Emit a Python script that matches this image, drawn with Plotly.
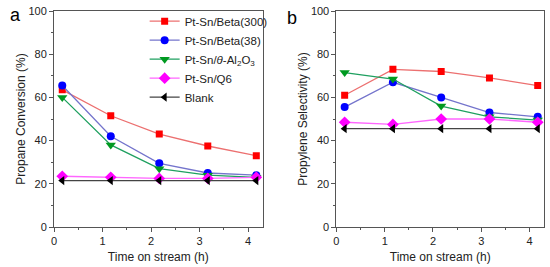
"""Pt-Sn catalysts: propane conversion and propylene selectivity vs time on stream."""

import plotly.graph_objects as go
from plotly.subplots import make_subplots

TIME_H = [0.17, 1.17, 2.17, 3.17, 4.17]

SERIES = [
    "Pt-Sn/Beta(300)",
    "Pt-Sn/Beta(38)",
    "Pt-Sn/<i>θ</i>-Al<sub>2</sub>O<sub>3</sub>",
    "Pt-Sn/Q6",
    "Blank",
]

CONVERSION = [
    [63.5, 51.5, 43.0, 37.5, 33.0],
    [65.5, 42.0, 29.5, 25.0, 24.0],
    [60.0, 38.0, 27.0, 24.0, 23.0],
    [23.5, 23.0, 22.5, 22.5, 23.0],
    [21.5, 21.5, 21.5, 21.5, 21.5],
]

SELECTIVITY = [
    [61.0, 73.0, 72.0, 69.0, 65.5],
    [55.5, 67.0, 60.0, 53.0, 51.0],
    [71.5, 68.5, 56.0, 51.0, 49.5],
    [48.5, 47.5, 50.0, 50.0, 48.5],
    [45.5, 45.5, 45.5, 45.5, 45.5],
]

MARKER_COLORS = ["#ff0000", "#0000ff", "#009a20", "#ff00ff", "#000000"]
LINE_COLORS = ["#ec7070", "#7474cc", "#1fa060", "#ff66ff", "#444444"]
SYMBOLS = ["square", "circle", "triangle-down", "diamond", "triangle-left"]
MARKER_SIZES = [7, 8, 9, 9, 8]

FONT = "Liberation Sans, Arial, sans-serif"

fig = make_subplots(rows=1, cols=2, horizontal_spacing=0.15)

for panel, values in enumerate([CONVERSION, SELECTIVITY], start=1):
    for i, name in enumerate(SERIES):
        fig.add_trace(
            go.Scatter(
                x=TIME_H,
                y=values[i],
                mode="lines+markers",
                name=name,
                line={"color": LINE_COLORS[i], "width": 1.3},
                marker={
                    "color": MARKER_COLORS[i],
                    "symbol": SYMBOLS[i],
                    "size": MARKER_SIZES[i],
                    "line": {"width": 0},
                },
                showlegend=panel == 1,
            ),
            row=1,
            col=panel,
        )

axis_common = dict(
    showline=True,
    mirror=True,
    linecolor="#555555",
    linewidth=1,
    ticks="outside",
    ticklen=4,
    tickcolor="#555555",
    showgrid=False,
    zeroline=False,
    tickfont={"size": 11, "color": "#222222"},
    title_font={"size": 12, "color": "#222222"},
)

fig.update_xaxes(
    range=[0, 4.3],
    tickvals=[0, 1, 2, 3, 4],
    minor={"tickvals": [0.5, 1.5, 2.5, 3.5], "ticks": "outside", "ticklen": 2,
           "tickcolor": "#555555"},
    title_text="Time on stream (h)",
    title_standoff=6,
    **axis_common,
)
fig.update_yaxes(
    range=[0, 100],
    tickvals=[0, 20, 40, 60, 80, 100],
    minor={"tickvals": [10, 30, 50, 70, 90], "ticks": "outside", "ticklen": 2,
           "tickcolor": "#555555"},
    title_standoff=0,
    **axis_common,
)
fig.update_yaxes(title_text="Propane Conversion (%)", row=1, col=1)
fig.update_yaxes(title_text="Propylene Selectivity (%)", row=1, col=2)

fig.update_layout(
    width=550,
    height=267,
    margin={"l": 54, "r": 5, "t": 10, "b": 39},
    plot_bgcolor="white",
    paper_bgcolor="white",
    font={"family": FONT, "color": "#222222"},
    xaxis={"domain": [0, 0.4257]},
    xaxis2={"domain": [0.5764, 1]},
    legend={
        "x": 0.185,
        "y": 1.02,
        "xanchor": "left",
        "yanchor": "top",
        "bgcolor": "rgba(0,0,0,0)",
        "font": {"size": 11.5, "color": "#222222"},
        "itemwidth": 30,
        "tracegroupgap": 0,
    },
    annotations=[
        dict(text="a", x=-0.094, y=1.035, xref="paper", yref="paper",
             xanchor="left", yanchor="top", showarrow=False,
             font={"size": 18, "color": "#000000"}),
        dict(text="b", x=0.4705, y=1.025, xref="paper", yref="paper",
             xanchor="left", yanchor="top", showarrow=False,
             font={"size": 18, "color": "#000000"}),
    ],
)

# drop the browser's default 8px body margin so the figure fills the window
fig.write_html(
    "out.html",
    config={"displayModeBar": False},
    post_script="document.body.style.margin='0';",
)
